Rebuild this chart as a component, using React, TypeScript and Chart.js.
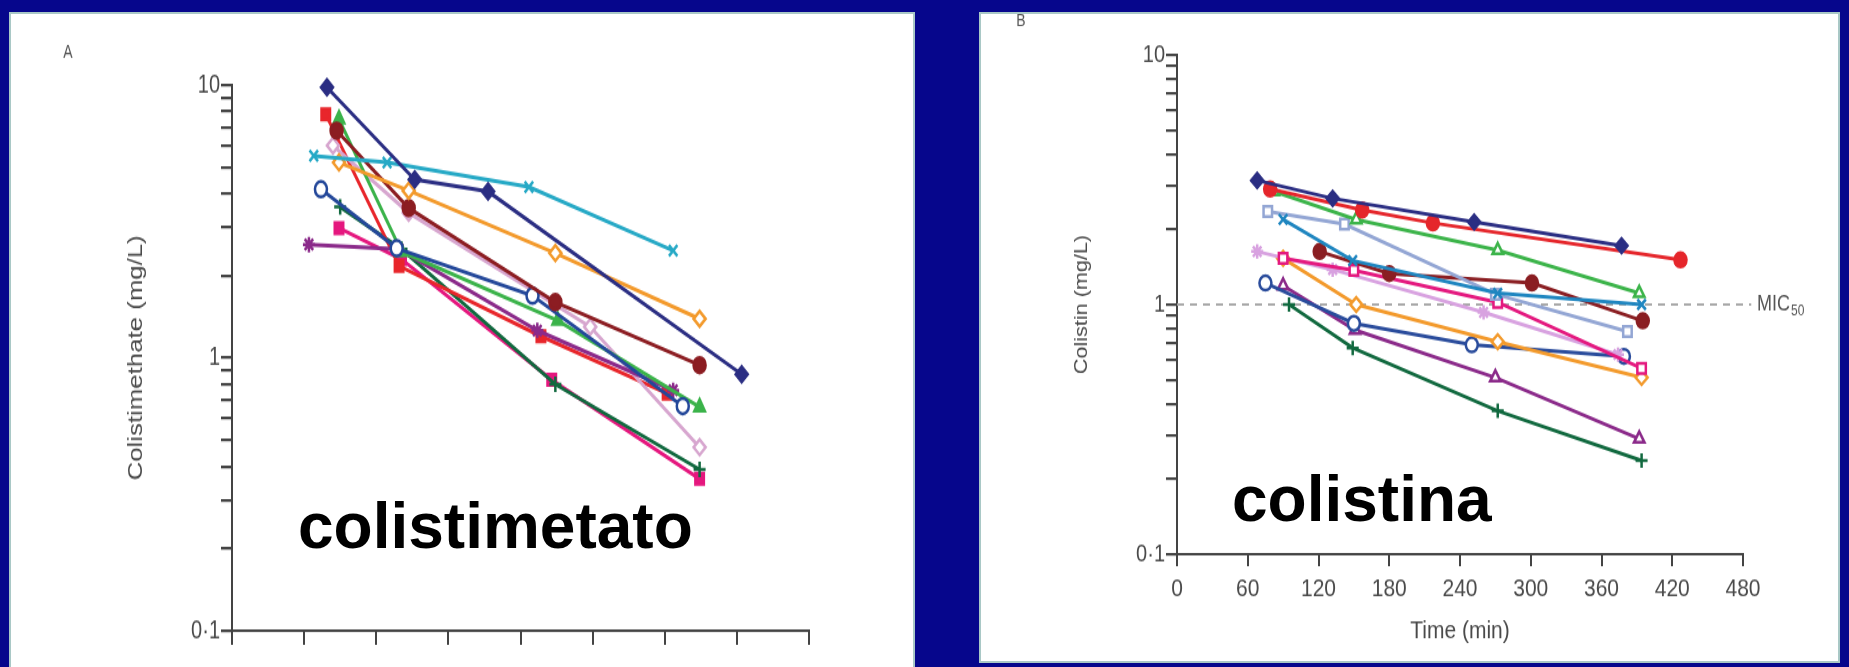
import React, { useEffect, useRef } from "react";
import { Chart, registerables } from "chart.js";

Chart.register(...registerables);

// ---------------- axis ticks ----------------
const X_TICKS = [0, 60, 120, 180, 240, 300, 360, 420, 480];
const Y_TICKS = [0.1, 0.2, 0.3, 0.4, 0.5, 0.6, 0.7, 0.8, 0.9, 1, 2, 3, 4, 5, 6, 7, 8, 9, 10];
const Y_LABEL_VALUES = [0.1, 1, 10];
const Y_LABEL_TEXT = ["0·1", "1", "10"];

// ---------------- Panel A: colistimethate (time min, mg/L) ----------------
const A_NAVY_T = [79, 152, 213, 424];
const A_NAVY_V = [9.8, 4.5, 4.07, 0.87];
const A_RED_T = [78, 139, 257, 362];
const A_RED_V = [7.8, 2.17, 1.2, 0.74];
const A_DKRED_T = [87, 147, 269, 389];
const A_DKRED_V = [6.8, 3.54, 1.6, 0.94];
const A_CYAN_T = [68, 129, 247, 367];
const A_CYAN_V = [5.5, 5.2, 4.23, 2.47];
const A_ORANGE_T = [89, 147, 269, 389];
const A_ORANGE_V = [5.2, 4.1, 2.42, 1.39];
const A_BLUE_T = [74, 137, 250, 375];
const A_BLUE_V = [4.15, 2.52, 1.69, 0.665];
const A_DKGREEN_T = [90, 141, 269, 389];
const A_DKGREEN_V = [3.57, 2.5, 0.8, 0.39];
const A_PINK_T = [89, 141, 266, 389];
const A_PINK_V = [2.99, 2.3, 0.83, 0.36];
const A_PURPLE_T = [64, 139, 254, 367];
const A_PURPLE_V = [2.6, 2.5, 1.26, 0.76];
const A_GREEN_T = [89, 141, 271, 389];
const A_GREEN_V = [7.5, 2.45, 1.37, 0.66];
const A_LAV_T = [84, 147, 298, 389];
const A_LAV_V = [6.0, 3.4, 1.3, 0.47];

// ---------------- Panel B: colistin (time min, mg/L) ----------------
const B_NAVY_T = [68, 132, 252, 377];
const B_NAVY_V = [3.14, 2.66, 2.14, 1.72];
const B_RED_T = [79, 157, 217, 427];
const B_RED_V = [2.9, 2.39, 2.12, 1.51];
const B_GREEN_T = [82, 152, 272, 392];
const B_GREEN_V = [2.84, 2.19, 1.65, 1.11];
const B_LTBLUE_T = [77, 142, 270, 382];
const B_LTBLUE_V = [2.36, 2.1, 1.1, 0.78];
const B_BLUEX_T = [90, 149, 272, 394];
const B_BLUEX_V = [2.19, 1.5, 1.11, 1.0];
const B_DKRED_T = [121, 180, 301, 395];
const B_DKRED_V = [1.63, 1.33, 1.22, 0.86];
const B_MAGENTA_T = [90, 150, 272, 394];
const B_MAGENTA_V = [1.53, 1.37, 1.02, 0.555];
const B_VIOLET_T = [68, 132, 260, 374];
const B_VIOLET_V = [1.63, 1.38, 0.93, 0.63];
const B_ORANGE_T = [90, 152, 272, 394];
const B_ORANGE_V = [1.53, 1.0, 0.71, 0.51];
const B_BLUEO_T = [75, 150, 250, 379];
const B_BLUEO_V = [1.22, 0.84, 0.69, 0.62];
const B_PURPLE_T = [90, 151, 270, 392];
const B_PURPLE_V = [1.19, 0.79, 0.51, 0.29];
const B_DKGREEN_T = [95, 149, 272, 394];
const B_DKGREEN_V = [1.0, 0.67, 0.375, 0.237];

const MIC_T = [0, 487];
const MIC_V = [1, 1];

// ---------------- styles ----------------
const BG = "#06068c";
const PANEL_BORDER = "#a9c8c6";
const AXIS_COLOR = "#444444";
const TEXT_COLOR = "#4a4a4a";
const FONT = "'Liberation Sans', Arial, sans-serif";

function series(t: number[], v: number[], color: string, style: string, filled: boolean) {
  return {
    data: t.map((x, i) => ({ x, y: v[i] })),
    borderColor: color,
    backgroundColor: color,
    borderWidth: 3,
    pointStyle: style,
    pointRadius: 6,
    pointHoverRadius: 6,
    pointBorderWidth: 2.5,
    pointBackgroundColor: filled ? color : "#ffffff",
    pointBorderColor: color,
    tension: 0,
    fill: false,
    clip: false,
    order: 0,
  };
}

function micLine() {
  return {
    data: MIC_T.map((x, i) => ({ x, y: MIC_V[i] })),
    borderColor: "#a8a8a8",
    borderWidth: 2,
    borderDash: [7, 6],
    pointRadius: 0,
    fill: false,
    clip: false,
    order: 5,
  };
}

const A_DATASETS = () => [
  series(A_NAVY_T, A_NAVY_V, "#2b2e83", "rectRot", true),
  series(A_CYAN_T, A_CYAN_V, "#26a9c6", "crossRot", false),
  series(A_ORANGE_T, A_ORANGE_V, "#f39a2c", "rectRot", false),
  series(A_DKRED_T, A_DKRED_V, "#8c1d22", "circle", true),
  series(A_BLUE_T, A_BLUE_V, "#24489a", "circle", false),
  series(A_GREEN_T, A_GREEN_V, "#3bb34a", "triangle", true),
  series(A_PURPLE_T, A_PURPLE_V, "#8b2a8a", "star", false),
  series(A_LAV_T, A_LAV_V, "#d7a6cf", "rectRot", false),
  series(A_RED_T, A_RED_V, "#e8262b", "rect", true),
  series(A_DKGREEN_T, A_DKGREEN_V, "#11693f", "cross", false),
  series(A_PINK_T, A_PINK_V, "#e5177e", "rect", true),
];

const B_DATASETS = () => [
  series(B_NAVY_T, B_NAVY_V, "#2b2e83", "rectRot", true),
  series(B_RED_T, B_RED_V, "#e5262b", "circle", true),
  series(B_GREEN_T, B_GREEN_V, "#3cb44a", "triangle", false),
  series(B_BLUEX_T, B_BLUEX_V, "#1f86c0", "crossRot", false),
  series(B_LTBLUE_T, B_LTBLUE_V, "#93a6d4", "rect", false),
  series(B_DKRED_T, B_DKRED_V, "#8a1e22", "circle", true),
  series(B_MAGENTA_T, B_MAGENTA_V, "#e4197f", "rect", false),
  series(B_VIOLET_T, B_VIOLET_V, "#d8a2e0", "star", false),
  series(B_ORANGE_T, B_ORANGE_V, "#f39a2c", "rectRot", false),
  series(B_BLUEO_T, B_BLUEO_V, "#2a4c9c", "circle", false),
  series(B_PURPLE_T, B_PURPLE_V, "#8b2a8a", "triangle", false),
  series(B_DKGREEN_T, B_DKGREEN_V, "#11693f", "cross", false),
  micLine(),
];

type Cfg = {
  padL: number; padR: number; padT: number;
  yW: number; xH: number;
  xTickLen: number; yTickLen: number;
  showX: boolean; xFont: number; xPad: number;
  xTitle: string; xTitlePadB: number;
  yTitle: string; yTitleSize: number; yTitlePadT: number;
  yFont: number;
};

function buildOptions(c: Cfg) {
  return {
    responsive: false,
    maintainAspectRatio: false,
    animation: false,
    devicePixelRatio: 1,
    events: [],
    layout: { padding: { left: c.padL, right: c.padR, top: c.padT, bottom: 0 } },
    plugins: { legend: { display: false }, tooltip: { enabled: false } },
    scales: {
      x: {
        type: "linear",
        min: 0,
        max: 480,
        afterBuildTicks: (s: any) => { s.ticks = X_TICKS.map((value) => ({ value, major: false })); },
        afterFit: (s: any) => { s.height = c.xH; },
        grid: { display: true, drawOnChartArea: false, drawTicks: true, tickLength: c.xTickLen, color: AXIS_COLOR, lineWidth: 2, tickWidth: 2, tickColor: AXIS_COLOR },
        border: { display: true, color: AXIS_COLOR, width: 2 },
        ticks: { display: c.showX, autoSkip: false, maxRotation: 0, padding: c.xPad, color: TEXT_COLOR, font: { family: FONT, size: c.xFont }, major: { enabled: false } },
        title: { display: c.xTitle !== "", text: c.xTitle, color: TEXT_COLOR, font: { family: FONT, size: c.xFont }, padding: { top: 0, bottom: c.xTitlePadB } },
      },
      y: {
        type: "logarithmic",
        min: 0.1,
        max: 10,
        afterBuildTicks: (s: any) => { s.ticks = Y_TICKS.map((value) => ({ value, major: false })); },
        afterFit: (s: any) => { s.width = c.yW; },
        grid: { display: true, drawOnChartArea: false, drawTicks: true, tickLength: c.yTickLen, color: AXIS_COLOR, lineWidth: 2.2, tickWidth: 2.2, tickColor: AXIS_COLOR },
        border: { display: true, color: AXIS_COLOR, width: 2 },
        ticks: {
          autoSkip: false,
          padding: 1,
          color: TEXT_COLOR,
          major: { enabled: false },
          font: { family: FONT, size: c.yFont },
          callback: (v: any) => {
            const i = Y_LABEL_VALUES.indexOf(Number(v));
            return i >= 0 ? Y_LABEL_TEXT[i] : " ";
          },
        },
        title: { display: true, text: c.yTitle, color: TEXT_COLOR, font: { family: FONT, size: c.yTitleSize }, padding: { top: c.yTitlePadT, bottom: 0 } },
      },
    },
  };
}

function StretchChart(props: { cssW: number; cssH: number; intH: number; make: () => any }) {
  const ref = useRef<HTMLCanvasElement | null>(null);
  useEffect(() => {
    const canvas = ref.current!;
    canvas.width = props.cssW;
    canvas.height = props.intH;
    canvas.style.width = props.cssW + "px";
    canvas.style.height = props.cssH + "px";
    const chart = new Chart(canvas, props.make());
    return () => chart.destroy();
  }, []);
  return (
    <canvas
      ref={ref}
      width={props.cssW}
      height={props.intH}
      style={{ position: "absolute", left: 0, top: 0, width: props.cssW, height: props.cssH, display: "block" }}
    />
  );
}

// ---------------- layout (page pixels) ----------------
const PA = { x: 9, y: 12, w: 906, h: 680 };
const PB = { x: 979, y: 12, w: 861, h: 651 };

const A_CSS_W = PA.w - 4;
const A_CSS_H = PA.h - 4;
const A_INT_H = Math.round(A_CSS_H / 1.29);
const A_S = A_CSS_H / A_INT_H;

const B_CSS_W = PB.w - 4;
const B_CSS_H = PB.h - 4;
const B_INT_H = Math.round(B_CSS_H / 1.2);
const B_S = B_CSS_H / B_INT_H;

function makeA() {
  const ox = PA.x + 2, oy = PA.y + 2;
  const areaL = 232 - ox, areaR = 809 - ox, areaT = (85 - oy) / A_S, areaB = (631 - oy) / A_S;
  const padL = 100;
  const cfg: Cfg = {
    padL,
    padR: A_CSS_W - areaR,
    padT: Math.round(areaT),
    yW: areaL - padL,
    xH: A_INT_H - Math.round(areaB),
    xTickLen: Math.round(14 / A_S),
    yTickLen: 11,
    showX: false,
    xFont: 20,
    xPad: 6,
    xTitle: "",
    xTitlePadB: 0,
    yTitle: "Colistimethate (mg/L)",
    yTitleSize: 20,
    yTitlePadT: 125 - padL - 12,
    yFont: 20,
  };
  const letter = {
    id: "panelTextA",
    afterDraw(chart: any) {
      const ctx = chart.ctx;
      ctx.save();
      ctx.fillStyle = "#555";
      ctx.font = `14px ${FONT}`;
      ctx.textAlign = "center";
      ctx.textBaseline = "middle";
      ctx.fillText("A", 57, (53 - oy) / A_S);
      ctx.restore();
    },
  };
  return { type: "line", data: { datasets: A_DATASETS() }, options: buildOptions(cfg), plugins: [letter] };
}

function makeB() {
  const ox = PB.x + 2, oy = PB.y + 2;
  const areaL = 1177 - ox, areaR = 1743 - ox, areaT = (55 - oy) / B_S, areaB = (554 - oy) / B_S;
  const padL = 75;
  const cfg: Cfg = {
    padL,
    padR: B_CSS_W - areaR,
    padT: Math.round(areaT),
    yW: areaL - padL,
    xH: B_INT_H - Math.round(areaB),
    xTickLen: 10,
    yTickLen: 11,
    showX: true,
    xFont: 21,
    xPad: 7,
    xTitle: "Time (min)",
    xTitlePadB: 12,
    yTitle: "Colistin (mg/L)",
    yTitleSize: 18,
    yTitlePadT: 101 - padL - 11,
    yFont: 20,
  };
  const texts = {
    id: "panelTextB",
    afterDraw(chart: any) {
      const ctx = chart.ctx;
      const yScale = chart.scales.y;
      ctx.save();
      ctx.fillStyle = "#555";
      ctx.font = `14px ${FONT}`;
      ctx.textAlign = "center";
      ctx.textBaseline = "middle";
      ctx.fillText("B", 1021 - ox, (21 - oy) / B_S);
      const y1 = yScale.getPixelForValue(MIC_V[0]);
      ctx.textAlign = "left";
      ctx.font = `18px ${FONT}`;
      const mx = 1757 - ox;
      ctx.fillText("MIC", mx, y1);
      const w = ctx.measureText("MIC").width;
      ctx.font = `12px ${FONT}`;
      ctx.fillText("50", mx + w + 1, y1 + 6);
      ctx.restore();
    },
  };
  return { type: "line", data: { datasets: B_DATASETS() }, options: buildOptions(cfg), plugins: [texts] };
}

const BIG_FONT = "bold 64px 'Liberation Sans', Arial, sans-serif";

export default function App() {
  useEffect(() => {
    document.body.style.margin = "0";
  }, []);
  return (
    <div style={{ position: "fixed", left: 0, top: 0, width: 1849, height: 667, background: BG, overflow: "hidden" }}>
      <div
        style={{
          position: "absolute", left: PA.x, top: PA.y, width: PA.w, height: PA.h,
          background: "#ffffff", border: `2px solid ${PANEL_BORDER}`, boxSizing: "border-box",
        }}
      >
        <StretchChart cssW={A_CSS_W} cssH={A_CSS_H} intH={A_INT_H} make={makeA} />
      </div>
      <div
        style={{
          position: "absolute", left: PB.x, top: PB.y, width: PB.w, height: PB.h,
          background: "#ffffff", border: `2px solid ${PANEL_BORDER}`, boxSizing: "border-box",
        }}
      >
        <StretchChart cssW={B_CSS_W} cssH={B_CSS_H} intH={B_INT_H} make={makeB} />
      </div>
      <div style={{ position: "absolute", left: 298, top: 494, font: BIG_FONT, lineHeight: "64px", color: "#000", whiteSpace: "nowrap" }}>
        colistimetato
      </div>
      <div style={{ position: "absolute", left: 1232, top: 467, font: BIG_FONT, lineHeight: "64px", color: "#000", whiteSpace: "nowrap" }}>
        colistina
      </div>
    </div>
  );
}
